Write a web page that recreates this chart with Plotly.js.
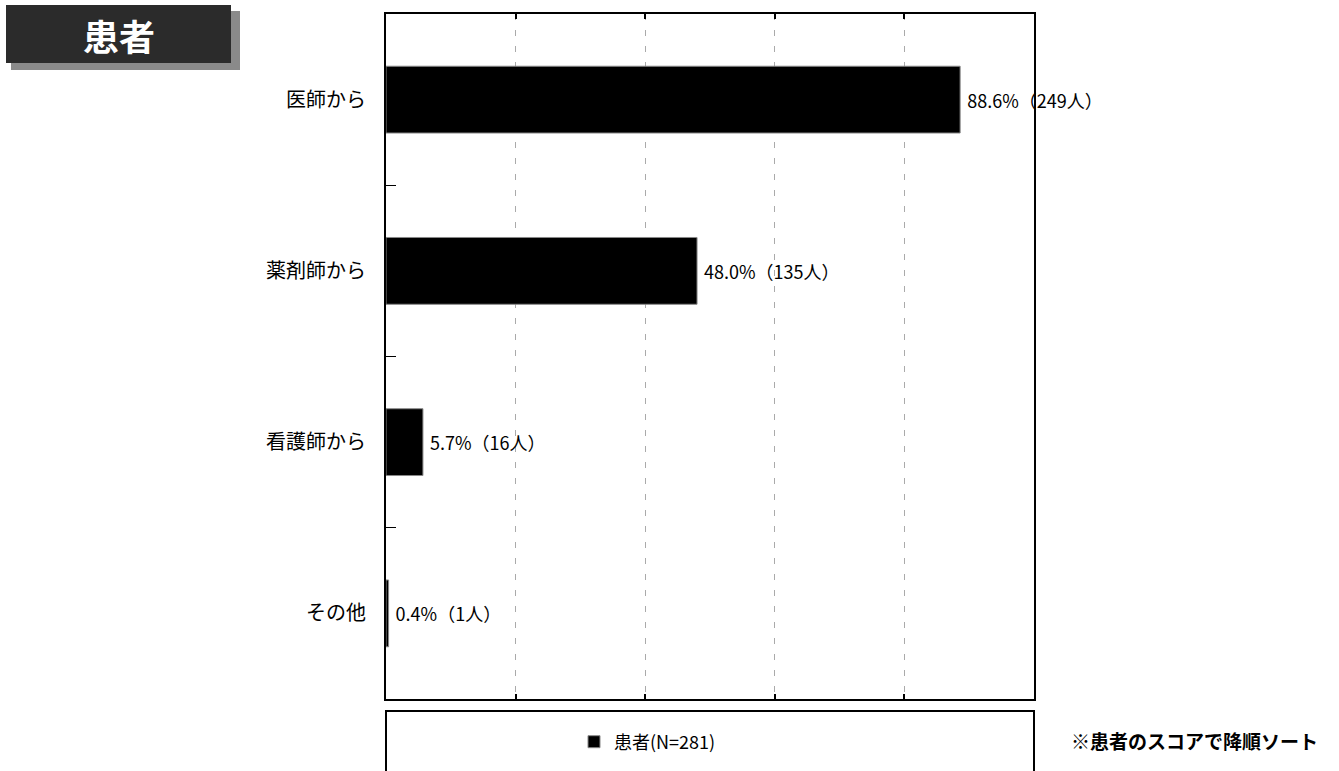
<!DOCTYPE html>
<html><head><meta charset="utf-8">
<script src="https://cdn.plot.ly/plotly-3.0.1.min.js"></script>
<style>html,body{margin:0;padding:0;background:#fff}#c{width:1339px;height:771px}</style>
</head><body><div id="c"></div>
<script>
const categories = ['医師から','薬剤師から','看護師から','その他'];
const percents = [88.6, 48.0, 5.7, 0.4];
const counts = [249, 135, 16, 1];
const seriesName = '患者(N=281)';
const panelTitle = '患者';
const noteText = '※患者のスコアで降順ソート';

const W=1339,H=771,L=386,R=1034,T=14,B=700;
const FONT='"Noto Sans CJK JP", "Noto Sans", sans-serif';
const px=x=>(x-L)/(R-L), py=y=>(B-y)/(B-T);
const labels = percents.map((p,i)=>' '+p.toFixed(1)+'%（'+counts[i]+'人）');

const trace={type:'bar',orientation:'h',y:categories,x:percents,name:seriesName,
  marker:{color:'#000',line:{color:'#888',width:1}},width:0.39,
  text:labels,textposition:'outside',cliponaxis:false,constraintext:'none',
  textfont:{family:FONT,size:18,color:'#000'},hoverinfo:'skip',showlegend:true};

const layout={width:W,height:H,margin:{l:L,r:W-R,t:T,b:H-B},
  paper_bgcolor:'#fff',plot_bgcolor:'#fff',font:{family:FONT,color:'#000'},
  bargap:0.61,
  xaxis:{range:[0,100],dtick:20,tick0:0,showticklabels:false,showgrid:true,
    gridcolor:'#aaa',griddash:'6px,10px',gridwidth:1,zeroline:false,
    showline:true,linecolor:'#000',linewidth:2,mirror:'ticks',ticks:'inside',ticklen:5,tickcolor:'#000',tickwidth:2,fixedrange:true},
  yaxis:{type:'category',categoryarray:categories,autorange:'reversed',
    showline:true,linecolor:'#000',linewidth:2,mirror:true,ticks:'inside',tickson:'boundaries',ticklen:10,tickcolor:'#000',tickwidth:1,
    showgrid:false,tickfont:{family:FONT,size:20,color:'#000'},ticklabelstandoff:14,fixedrange:true},
  legend:{orientation:'h',x:px(574),xanchor:'left',xref:'paper',y:py(742),yanchor:'middle',
    font:{family:FONT,size:18,color:'#000'},bgcolor:'rgba(0,0,0,0)',itemwidth:30},
  shapes:[
    {type:'rect',xref:'paper',yref:'paper',x0:px(386),x1:px(1034),y0:py(712),y1:py(775),line:{color:'#000',width:2},fillcolor:'rgba(0,0,0,0)',layer:'below'},
    {type:'rect',xref:'paper',yref:'paper',x0:px(11),x1:px(240),y0:py(11),y1:py(70),line:{width:0},fillcolor:'#8a8a8a'},
    {type:'rect',xref:'paper',yref:'paper',x0:px(6),x1:px(231),y0:py(5),y1:py(63),line:{width:0},fillcolor:'#2b2b2b'}
  ],
  annotations:[
    {xref:'paper',yref:'paper',x:px(119),y:py(35),text:'<b>'+panelTitle+'</b>',showarrow:false,font:{family:FONT,size:36,color:'#fff'},xanchor:'center',yanchor:'middle'},
    {xref:'paper',yref:'paper',x:px(1194),y:py(742),text:'<b>'+noteText+'</b>',showarrow:false,font:{family:FONT,size:19,color:'#000'},xanchor:'center',yanchor:'middle'}
  ]};
Plotly.newPlot('c',[trace],layout,{displayModeBar:false,staticPlot:true});
</script></body></html>
